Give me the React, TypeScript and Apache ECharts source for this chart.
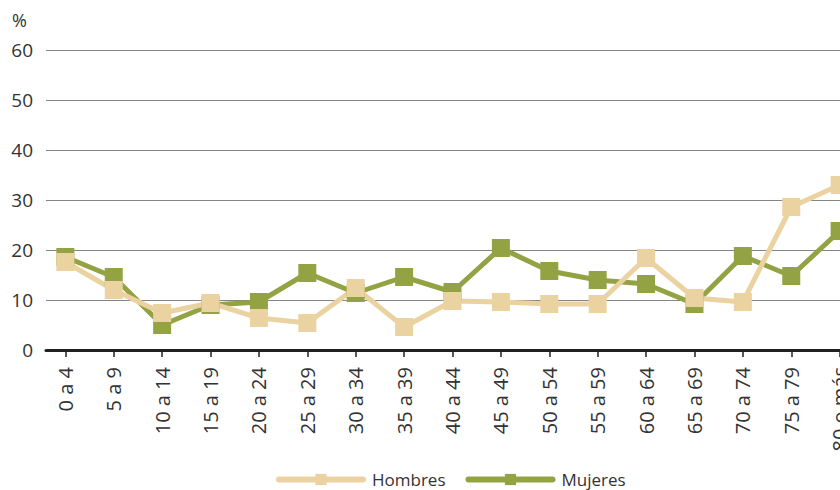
import React, { useEffect, useRef } from "react";
import * as echarts from "echarts";

const categories = [
  "0 a 4", "5 a 9", "10 a 14", "15 a 19", "20 a 24", "25 a 29", "30 a 34", "35 a 39",
  "40 a 44", "45 a 49", "50 a 54", "55 a 59", "60 a 64", "65 a 69", "70 a 74", "75 a 79", "80 o más",
];
const hombres = [17.6, 12.0, 7.4, 9.4, 6.4, 5.4, 12.4, 4.6, 9.8, 9.6, 9.2, 9.2, 18.4, 10.4, 9.6, 28.6, 33.0];
const mujeres = [18.6, 14.6, 5.0, 9.0, 9.6, 15.4, 11.4, 14.6, 11.6, 20.4, 15.8, 14.0, 13.2, 9.2, 18.8, 14.8, 23.8];
const yTicks = { min: 0, max: 60, interval: 10 };

const FONT = "'Open Sans', sans-serif";
const TEXT = "#333333";

export default function App() {
  const ref = useRef<HTMLDivElement>(null);
  useEffect(() => {
    if (!ref.current) return;
    const chart = echarts.init(ref.current, null, { renderer: "svg" });
    const idx = categories.map((_, i) => i);
    chart.setOption({
      animation: false,
      backgroundColor: "#ffffff",
      textStyle: { fontFamily: FONT },
      graphic: [
        { type: "text", left: 12, top: 11, style: { text: "%", fontSize: 18, fill: TEXT, fontFamily: FONT } },
      ],
      grid: { left: 46, top: 50, width: 813, height: 300, containLabel: false, outerBoundsMode: "none" },
      legend: {
        data: ["Hombres", "Mujeres"],
        left: 276,
        top: 471,
        padding: 0,
        itemWidth: 84,
        itemHeight: 14,
        itemGap: 20,
        textStyle: { fontSize: 17, color: TEXT, fontFamily: FONT, padding: [0, 0, 0, 4] },
        lineStyle: { width: 6, cap: "round" },
      },
      xAxis: {
        type: "value",
        min: -0.4,
        max: 16.4,
        splitLine: { show: false },
        axisLine: { show: true, onZero: true, lineStyle: { color: "#231f20", width: 3 } },
        axisTick: { show: true, customValues: idx, length: 7, lineStyle: { color: "#231f20", width: 1.5 } },
        axisLabel: {
          customValues: idx,
          rotate: 90,
          margin: 17,
          fontSize: 20,
          color: TEXT,
          fontFamily: FONT,
          formatter: (v: number) => categories[Math.round(v)] ?? "",
        },
      },
      yAxis: {
        type: "value",
        min: yTicks.min,
        max: yTicks.max,
        interval: yTicks.interval,
        axisLine: { show: false },
        axisTick: { show: false },
        axisLabel: { margin: 13, fontSize: 19, color: TEXT, fontFamily: FONT },
        splitLine: { lineStyle: { color: "#858585", width: 1.2 } },
      },
      series: [
        {
          name: "Mujeres",
          type: "line",
          data: mujeres.map((v, i) => [i, v]),
          symbol: "rect",
          symbolSize: 18,
          color: "#93a343",
          lineStyle: { width: 5, color: "#93a343" },
          itemStyle: { color: "#93a343" },
        },
        {
          name: "Hombres",
          type: "line",
          data: hombres.map((v, i) => [i, v]),
          symbol: "rect",
          symbolSize: 18,
          color: "#ead3a1",
          lineStyle: { width: 5, color: "#ead3a1" },
          itemStyle: { color: "#ead3a1" },
        },
      ],
    });
    return () => chart.dispose();
  }, []);
  return <div ref={ref} style={{ position: "fixed", left: 0, top: 0, width: 840, height: 490 }} />;
}
